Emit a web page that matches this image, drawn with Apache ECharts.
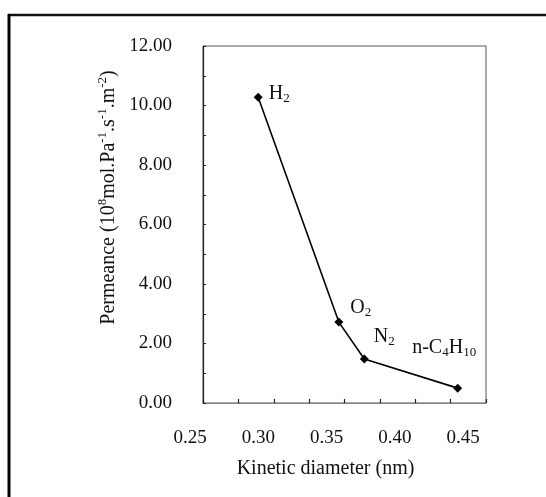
<!DOCTYPE html>
<html>
<head>
<meta charset="utf-8">
<script src="https://cdn.jsdelivr.net/npm/echarts@6/dist/echarts.min.js"></script>
<style>
  html, body { margin: 0; padding: 0; background: #fff; }
  #chart { width: 546px; height: 497px; }
</style>
</head>
<body>
<div id="chart"></div>
<script>
// Gas permeance versus kinetic diameter
const gases = ['H2', 'O2', 'N2', 'n-C4H10'];
const kineticDiameter = [0.289, 0.346, 0.364, 0.43];   // nm
const permeance = [10.28, 2.72, 1.48, 0.5];            // 10^-8 mol Pa^-1 s^-1 m^-2
const gasLabels = [
  'H{sub|2}',
  'O{sub|2}',
  'N{sub|2}',
  'n-C{sub|4}H{sub|10}'
];
const xTickLabels = ['0.25', '0.30', '0.35', '0.40', '0.45'];
const yTickLabels = ['0.00', '2.00', '4.00', '6.00', '8.00', '10.00', '12.00'];

const serif = '"Liberation Serif", "Times New Roman", serif';

// per-point label offsets (px), relative to the marker
const labelOffsets = [[1, -3], [2, -14], [0, -22], [-55, -40]];

// small leftward nudges for the x tick labels, one style per label
const xLabelRich = {};
[26, 31, 36, 41, 46].forEach((p, i) => {
  xLabelRich['t' + i] = { fontFamily: serif, fontSize: 19, color: '#111', padding: [0, p, 0, 0] };
});

const points = kineticDiameter.map((x, i) => ({
  value: [x, permeance[i]],
  name: gases[i],
  label: {
    show: true,
    position: 'right',
    offset: labelOffsets[i],
    formatter: gasLabels[i]
  }
}));

const chart = echarts.init(document.getElementById('chart'), null, { renderer: 'canvas' });

chart.setOption({
  animation: false,
  backgroundColor: '#ffffff',
  textStyle: { fontFamily: serif },
  grid: { left: 203, top: 46, right: 60, bottom: 94, show: true, borderColor: '#555', borderWidth: 1 },
  graphic: [
    // outer frame around the figure
    { type: 'line', shape: { x1: 8, y1: 15, x2: 546, y2: 15 }, style: { stroke: '#111', lineWidth: 2.5 } },
    { type: 'line', shape: { x1: 9, y1: 14, x2: 9, y2: 497 }, style: { stroke: '#000', lineWidth: 3 } }
  ],
  xAxis: {
    type: 'value',
    min: 0.25,
    max: 0.45,
    interval: 0.025,
    name: 'Kinetic diameter (nm)',
    nameLocation: 'middle',
    nameGap: 56,
    nameTextStyle: { fontFamily: serif, fontSize: 20, color: '#111', padding: [0, 38, 0, 0] },
    axisLine: { lineStyle: { color: '#777', width: 1, type: 'dotted' } },
    axisTick: { show: true, inside: true, length: 4, lineStyle: { color: '#222', width: 1.2 } },
    splitLine: { show: false },
    axisLabel: {
      margin: 26,
      fontFamily: serif,
      fontSize: 19,
      color: '#111',
      rich: xLabelRich,
      formatter: function (v) {
        const k = Math.round(v * 1000);
        if (k % 50 !== 0) return '';
        const idx = (k - 250) / 50;
        return xTickLabels[idx] ? '{t' + idx + '|' + xTickLabels[idx] + '}' : '';
      }
    }
  },
  yAxis: {
    type: 'value',
    min: 0,
    max: 12,
    interval: 1,
    name: 'Permeance (10{sup|8}mol.Pa{sup|-1}.s{sup|-1}.m{sup|-2})',
    nameLocation: 'middle',
    nameGap: 80,
    nameRotate: 90,
    nameTextStyle: {
      fontFamily: serif,
      fontSize: 20,
      color: '#111',
      padding: [0, 0, 0, 54],
      rich: {
        sup: { fontFamily: serif, fontSize: 13, color: '#111', verticalAlign: 'top', padding: [0, 0, 12, 0] }
      }
    },
    axisLine: { show: true, lineStyle: { color: '#222', width: 1.2 } },
    axisTick: { show: true, inside: true, length: 3, lineStyle: { color: '#222', width: 1 } },
    splitLine: { show: false },
    axisLabel: {
      margin: 31,
      fontFamily: serif,
      fontSize: 19,
      color: '#111',
      formatter: function (v) {
        const k = Math.round(v);
        return k % 2 === 0 ? (yTickLabels[k / 2] || '') : '';
      }
    }
  },
  series: [{
    type: 'line',
    data: points,
    symbol: 'diamond',
    symbolSize: 9,
    showAllSymbol: true,
    lineStyle: { color: '#000', width: 1.6 },
    itemStyle: { color: '#000' },
    label: {
      fontFamily: serif,
      fontSize: 20,
      color: '#111',
      rich: {
        sub: { fontFamily: serif, fontSize: 13, color: '#111', padding: [9, 0, 0, 0] }
      }
    }
  }]
});
</script>
</body>
</html>
